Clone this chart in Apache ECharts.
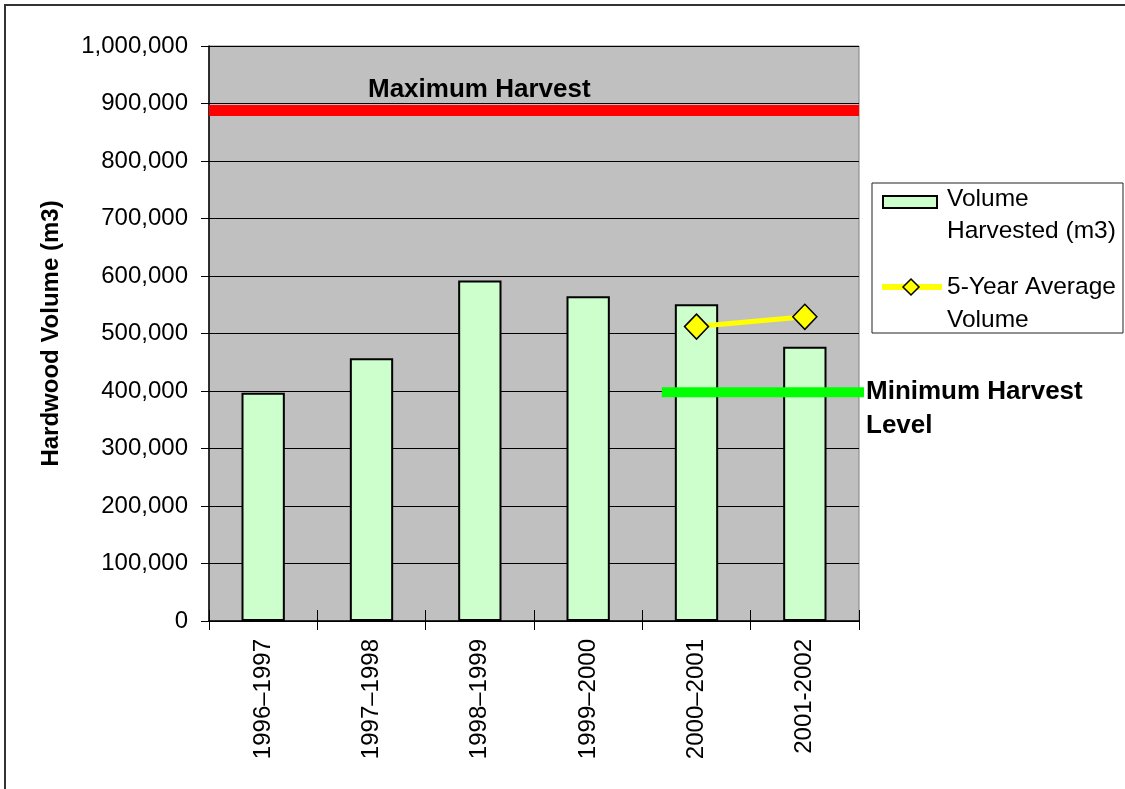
<!DOCTYPE html>
<html>
<head>
<meta charset="utf-8">
<title>Hardwood Volume Harvested</title>
<script src="https://cdn.jsdelivr.net/npm/echarts@6/dist/echarts.min.js"></script>
<style>
  html, body { margin: 0; padding: 0; background: #ffffff; }
  #chart { width: 1125px; height: 789px; }
</style>
</head>
<body>
<div id="chart"></div>
<script>
// Harvest seasons on the category axis
const seasons = ['1996\u20131997', '1997\u20131998', '1998\u20131999', '1999\u20132000', '2000\u20132001', '2001-2002'];
// Hardwood volume harvested per season (m3)
const volumeHarvested = [397000, 457000, 592000, 565000, 551000, 477000];
// Rolling 5-year average volume (m3), available from 2000–2001 on
const fiveYearAverage = [null, null, null, null, 512000, 529000];
// Harvest limits (m3)
const maximumHarvest = 888000;
const minimumHarvest = 398000;
// Span of the minimum-level bar, in category units along the axis
const minimumSpan = [4.18, 6.07];
// Value axis ticks
const yMin = 0, yMax = 1000000, yStep = 100000;

const FONT = '"Liberation Sans", Arial, sans-serif';
const fmtThousands = v => String(v).replace(/\B(?=(\d{3})+(?!\d))/g, ',');

const chart = echarts.init(document.getElementById('chart'), null, { renderer: 'canvas' });

const option = {
  animation: false,
  backgroundColor: '#ffffff',
  textStyle: { fontFamily: FONT },
  grid: {
    left: 209, right: 266, top: 46, bottom: 168,
    show: true,
    backgroundColor: '#C0C0C0',
    borderColor: '#808080',
    borderWidth: 1
  },
  xAxis: [
    {
      type: 'category',
      data: seasons,
      boundaryGap: true,
      axisLine: { show: true, lineStyle: { color: '#000', width: 1.5 } },
      axisTick: { show: true, length: 9, alignWithLabel: false, lineStyle: { color: '#000', width: 1 } },
      axisLabel: {
        rotate: 90,
        margin: 18,
        fontSize: 24,
        color: '#000',
        fontFamily: FONT,
        interval: 0
      },
      splitLine: { show: false }
    },
    {
      // upward half of the crossing tick marks
      type: 'category',
      data: seasons,
      position: 'bottom',
      boundaryGap: true,
      axisLine: { show: false },
      axisTick: { show: true, inside: true, length: 11, lineStyle: { color: '#000', width: 1 } },
      axisLabel: { show: false },
      splitLine: { show: false }
    },
    {
      type: 'value',
      min: 0,
      max: 6,
      show: false
    }
  ],
  yAxis: {
    type: 'value',
    min: yMin,
    max: yMax,
    interval: yStep,
    name: 'Hardwood Volume (m3)',
    nameLocation: 'middle',
    nameGap: 146,
    nameTextStyle: { fontSize: 24, fontWeight: 'bold', color: '#000', fontFamily: FONT },
    axisLine: { show: true, lineStyle: { color: '#000', width: 1.5 } },
    axisTick: { show: true, length: 8, lineStyle: { color: '#000', width: 1 } },
    axisLabel: {
      fontSize: 24,
      color: '#000',
      margin: 21,
      fontFamily: FONT,
      formatter: v => fmtThousands(v)
    },
    splitLine: { show: true, lineStyle: { color: '#000', width: 1 } }
  },
  series: [
    {
      name: 'Volume Harvested (m3)',
      type: 'bar',
      xAxisIndex: 0,
      data: volumeHarvested,
      barWidth: '40%',
      itemStyle: { color: '#CCFFCC', borderColor: '#000', borderWidth: 2 },
      z: 2,
      markLine: {
        silent: true,
        symbol: ['none', 'none'],
        lineStyle: { color: '#FF0000', width: 11, type: 'solid' },
        label: {
          show: true,
          position: 'insideStartTop',
          distance: [159, 8],
          formatter: 'Maximum Harvest',
          fontSize: 26,
          fontWeight: 'bold',
          color: '#000',
          fontFamily: FONT
        },
        data: [{ yAxis: maximumHarvest }],
        z: 4
      }
    },
    {
      name: '5-Year Average Volume',
      type: 'line',
      xAxisIndex: 0,
      data: fiveYearAverage,
      connectNulls: false,
      symbol: 'diamond',
      symbolSize: [24, 25],
      showSymbol: true,
      lineStyle: { color: '#FFFF00', width: 5 },
      itemStyle: { color: '#FFFF00', borderColor: '#000', borderWidth: 1.5 },
      z: 6
    },
    {
      name: 'Minimum Harvest Level',
      type: 'line',
      xAxisIndex: 2,
      data: [[minimumSpan[0], minimumHarvest], [minimumSpan[1], minimumHarvest]],
      clip: false,
      symbol: 'none',
      lineStyle: { color: '#00FF00', width: 10, cap: 'butt' },
      endLabel: {
        show: true,
        distance: 2,
        offset: [0, 17],
        formatter: 'Minimum Harvest\nLevel',
        fontSize: 26,
        fontWeight: 'bold',
        lineHeight: 34,
        color: '#000',
        fontFamily: FONT
      },
      z: 5
    }
  ],
  graphic: [
    // chart frame
    {
      type: 'rect',
      shape: { x: 5, y: 5, width: 1200, height: 900 },
      style: { fill: 'none', stroke: '#333', lineWidth: 2 },
      silent: true,
      z: 10
    },
    // legend box
    {
      type: 'group',
      z: 10,
      children: [
        { type: 'rect', shape: { x: 872, y: 183, width: 251, height: 150 },
          style: { fill: '#fff', stroke: '#222', lineWidth: 1 } },
        { type: 'rect', shape: { x: 883, y: 196, width: 54, height: 12 },
          style: { fill: '#CCFFCC', stroke: '#000', lineWidth: 2 } },
        { type: 'text', x: 947, y: 199,
          style: { text: 'Volume', font: '24.5px ' + FONT, fill: '#000', verticalAlign: 'middle' } },
        { type: 'text', x: 947, y: 231,
          style: { text: 'Harvested (m3)', font: '24.5px ' + FONT, fill: '#000', verticalAlign: 'middle' } },
        { type: 'line', shape: { x1: 882, y1: 287, x2: 942, y2: 287 },
          style: { stroke: '#FFFF00', lineWidth: 6 } },
        { type: 'polygon', shape: { points: [[911, 279], [919, 287], [911, 295], [903, 287]] },
          style: { fill: '#FFFF00', stroke: '#000', lineWidth: 1.5 } },
        { type: 'text', x: 947, y: 287,
          style: { text: '5-Year Average', font: '24.5px ' + FONT, fill: '#000', verticalAlign: 'middle' } },
        { type: 'text', x: 947, y: 320,
          style: { text: 'Volume', font: '24.5px ' + FONT, fill: '#000', verticalAlign: 'middle' } }
      ]
    }
  ]
};

chart.setOption(option);
</script>
</body>
</html>
